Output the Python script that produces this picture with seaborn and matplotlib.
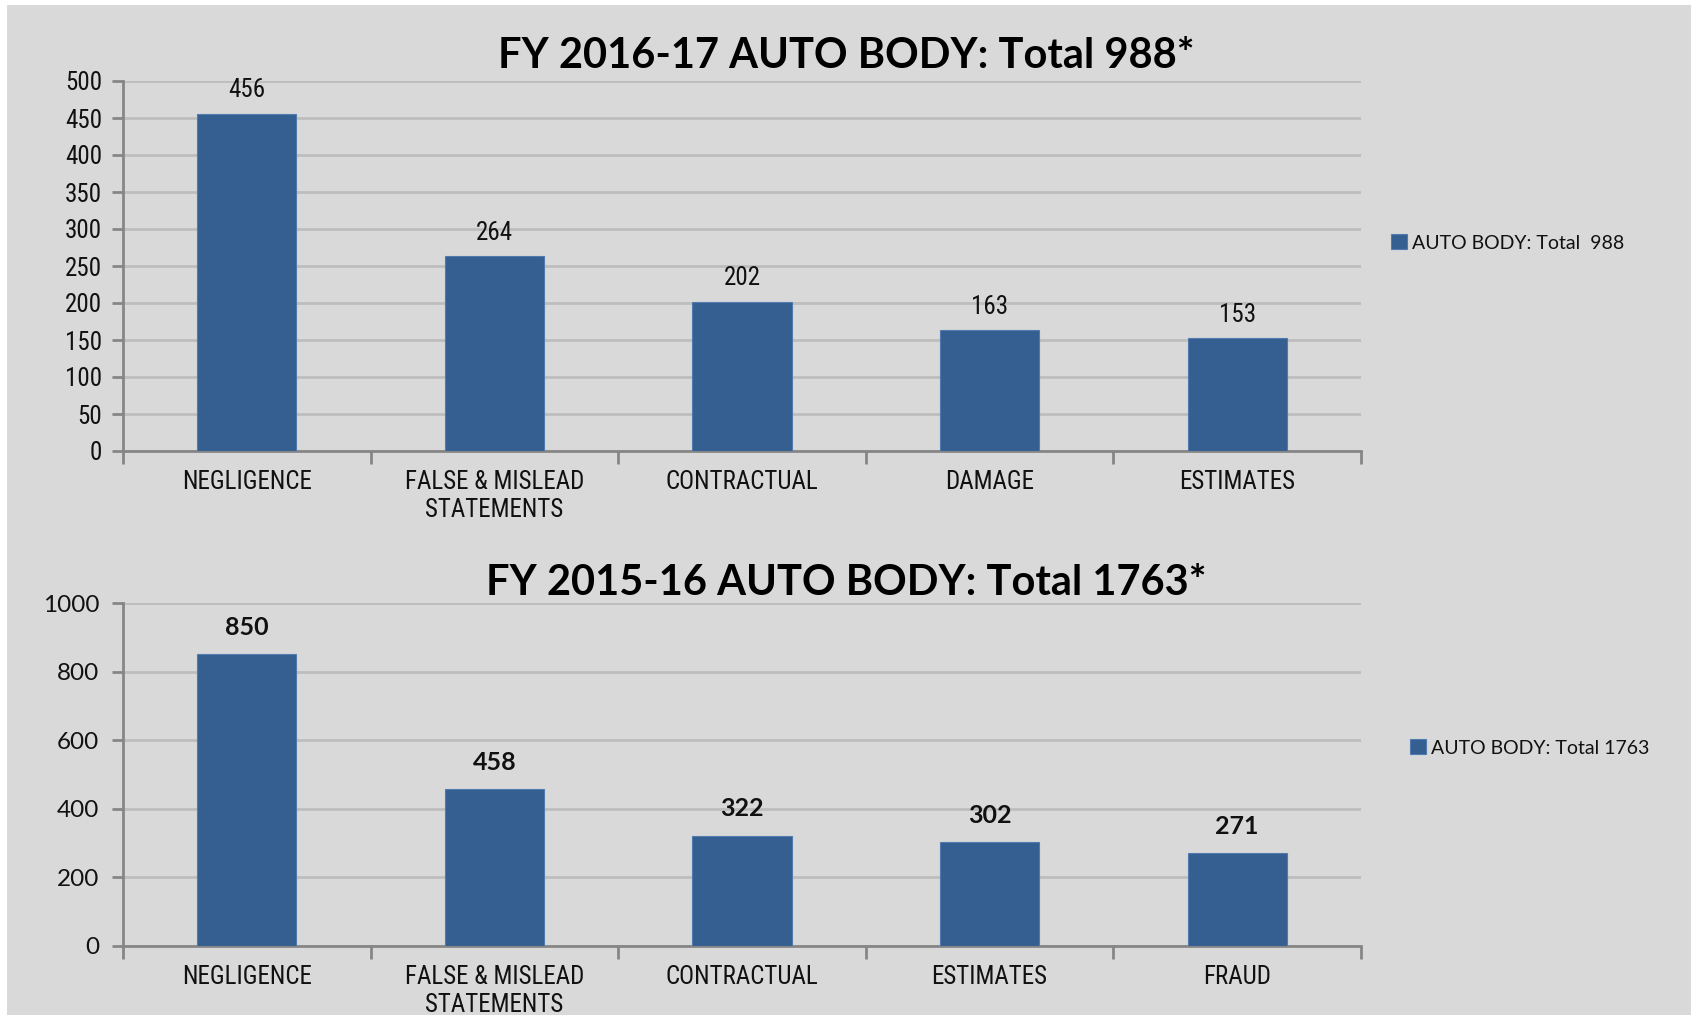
import matplotlib
matplotlib.use("Agg")
import matplotlib.pyplot as plt
from matplotlib import font_manager as fm
from matplotlib.patches import Rectangle
from matplotlib.ticker import FixedLocator
import seaborn as sns

# data
cats_1617 = ["NEGLIGENCE", "FALSE & MISLEAD\nSTATEMENTS", "CONTRACTUAL", "DAMAGE", "ESTIMATES"]
vals_1617 = [456, 264, 202, 163, 153]
cats_1516 = ["NEGLIGENCE", "FALSE & MISLEAD\nSTATEMENTS", "CONTRACTUAL", "ESTIMATES", "FRAUD"]
vals_1516 = [850, 458, 322, 302, 271]
title_1617 = "FY 2016-17 AUTO BODY: Total 988*"
title_1516 = "FY 2015-16 AUTO BODY: Total 1763*"
legend_1617 = "AUTO BODY: Total  988"
legend_1516 = "AUTO BODY: Total 1763"
yticks_1617 = [0, 50, 100, 150, 200, 250, 300, 350, 400, 450, 500]
yticks_1516 = [0, 200, 400, 600, 800, 1000]

BG = "#D9D9D9"
BAR = "#355F91"
GRID = "#BDBDBD"
AXC = "#868686"

sns.set_theme(style="white")
# pick a narrow face if one is installed
available = {f.name for f in fm.fontManager.ttflist}
narrow_names = [n for n in ["Liberation Sans Narrow", "Roboto Condensed", "Open Sans Condensed",
                            "Noto Sans Condensed", "DejaVu Sans Condensed"] if n in available]
NARROW = narrow_names[0] if narrow_names else "DejaVu Sans"
WIDE = "Lato"
plt.rcParams["font.family"] = [WIDE, "DejaVu Sans"]

fig = plt.figure(figsize=(16.91, 10.15), dpi=100, facecolor="white")
fig.patches.append(Rectangle((7 / 1691, 0), 1, 1 - 5 / 1015, transform=fig.transFigure,
                             facecolor=BG, edgecolor="none", zorder=-5))

W, H = 1691, 1015


def px_axes(left, top, right, bottom):
    return fig.add_axes([left / W, 1 - bottom / H, (right - left) / W, (bottom - top) / H])


def narrow_font(lab, size):
    lab.set_fontfamily(NARROW)
    lab.set_fontstretch("condensed")
    lab.set_fontsize(size)


def draw(ax, cats, vals, yticks, title, legend_text, narrow_y, bold_labels, title_y, leg_xy):
    ax.set_facecolor(BG)
    sns.barplot(x=cats, y=vals, ax=ax, color=BAR, width=0.4, saturation=1,
                edgecolor="#4F7BB0", linewidth=0.8, zorder=3, label=legend_text)
    ax.set_xlim(-0.5, len(cats) - 0.5)
    ax.set_ylim(0, yticks[-1])
    ax.set_yticks(yticks)
    ax.yaxis.grid(True, color=GRID, linewidth=2, zorder=0)
    ax.set_axisbelow(True)
    for s in ["top", "right"]:
        ax.spines[s].set_visible(False)
    for s in ["left", "bottom"]:
        ax.spines[s].set_color(AXC)
        ax.spines[s].set_linewidth(2)
    ax.set_xlabel("")
    ax.set_ylabel("")

    # category separators as minor ticks
    ax.xaxis.set_minor_locator(FixedLocator([i - 0.5 for i in range(len(cats) + 1)]))
    ax.tick_params(axis="x", which="minor", bottom=True, length=9, width=2, color=AXC)
    ax.tick_params(axis="x", which="major", bottom=False, pad=8)
    for lab in ax.get_xticklabels():
        narrow_font(lab, 18)
        lab.set_color("#111111")
        lab.set_linespacing(1.2)
    if narrow_y:
        ax.tick_params(axis="y", left=True, length=8, width=2, color=AXC, pad=7)
    else:
        ax.tick_params(axis="y", left=True, length=8, width=2, color=AXC, pad=9)
    for lab in ax.get_yticklabels():
        if narrow_y:
            narrow_font(lab, 18)
        else:
            lab.set_fontfamily(WIDE)
            lab.set_fontsize(17.5)
        lab.set_color("#111111")

    if bold_labels:
        ax.bar_label(ax.containers[0], padding=11, fontsize=18, fontweight="bold",
                     fontfamily=WIDE, color="#111111")
    else:
        texts = ax.bar_label(ax.containers[0], padding=8, color="#111111")
        for t in texts:
            narrow_font(t, 18)

    fig.text(846 / W, 1 - title_y / H, title, ha="center", va="center",
             fontsize=30, fontweight="bold", fontfamily=WIDE, color="black")

    leg = ax.legend(loc="center left", bbox_to_anchor=(leg_xy[0] / W, 1 - leg_xy[1] / H),
                    bbox_transform=fig.transFigure, frameon=False, fontsize=14,
                    handlelength=0.8, handleheight=0.8, handletextpad=0.3,
                    borderaxespad=0, borderpad=0)
    for t in leg.get_texts():
        t.set_color("#111111")


ax1 = px_axes(123, 81, 1361, 451)
draw(ax1, cats_1617, vals_1617, yticks_1617, title_1617, legend_1617,
     narrow_y=True, bold_labels=False, title_y=56, leg_xy=(1391, 243))

ax2 = px_axes(123, 603, 1361, 946)
draw(ax2, cats_1516, vals_1516, yticks_1516, title_1516, legend_1516,
     narrow_y=False, bold_labels=True, title_y=583, leg_xy=(1410, 748))

fig.savefig("out.png", dpi=100, facecolor=fig.get_facecolor())
